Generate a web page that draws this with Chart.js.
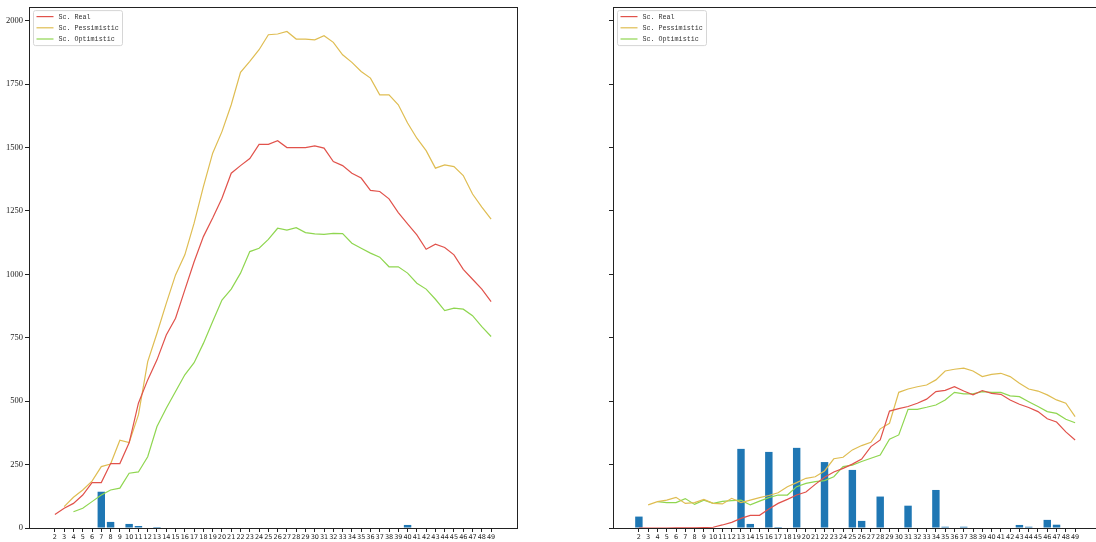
<!DOCTYPE html>
<html>
<head>
<meta charset="utf-8">
<script src="https://cdn.jsdelivr.net/npm/chart.js@4"></script>
<style>
body { margin: 0; width: 1096px; height: 542px; overflow: hidden; background: #fff; position: relative; }
.box { position: absolute; top: 0; width: 548px; height: 542px; }
#left { left: 0; }
#right { left: 584px; }
</style>
</head>
<body>
<div class="box" id="left"><canvas id="chartLeft" width="548" height="542"></canvas></div>
<div class="box" id="right"><canvas id="chartRight" width="548" height="542"></canvas></div>
<script>
// categories 2..49
const cats = [2, 3, 4, 5, 6, 7, 8, 9, 10, 11, 12, 13, 14, 15, 16, 17, 18, 19, 20, 21, 22, 23, 24, 25,
    26, 27, 28, 29, 30, 31, 32, 33, 34, 35, 36, 37, 38, 39, 40, 41, 42, 43, 44, 45, 46, 47, 48, 49];
const yTicks = [0, 250, 500, 750, 1000, 1250, 1500, 1750, 2000];
const labels = ['Sc. Real', 'Sc. Pessimistic', 'Sc. Optimistic'];

// left panel
const leftReal = [53, 78, 97, 130, 179, 179, 254, 254, 336, 492, 584, 663, 761, 827, 939, 1050, 1149, 1222, 1300, 1399,
    1429, 1457, 1513, 1513, 1527, 1500, 1500, 1500, 1507, 1498, 1445, 1429, 1399, 1380, 1331, 1327, 1298, 1244,
    1199, 1156, 1099, 1119, 1106, 1077, 1020, 981, 942, 893];
const leftPess = [null, 84, 121, 150, 185, 242, 252, 346, 337, 446, 656, 768, 886, 998, 1077, 1202, 1346, 1478, 1563, 1669,
    1797, 1840, 1886, 1945, 1948, 1958, 1928, 1928, 1925, 1941, 1915, 1866, 1836, 1800, 1774, 1708, 1708, 1669,
    1597, 1537, 1488, 1419, 1432, 1425, 1390, 1317, 1265, 1218];
const leftOpt = [null, null, 64, 78, 104, 130, 150, 157, 216, 221, 281, 400, 472, 538, 604, 652, 728, 814, 899, 942,
    1005, 1090, 1103, 1138, 1182, 1175, 1184, 1165, 1160, 1158, 1162, 1161, 1123, 1103, 1084, 1068, 1030, 1030,
    1005, 965, 942, 902, 857, 867, 863, 837, 794, 755];
const leftBars = [0, 0, 0, 0, 0, 143, 24, 0, 16, 8, 0, 4, 0, 0, 0, 0, 0, 0, 0, 0, 0, 0, 0, 0,
    0, 0, 0, 0, 0, 0, 0, 0, 0, 0, 0, 0, 0, 0, 12, 0, 0, 0, 0, 0, 0, 0, 0, 0];

// right panel
const rightReal = [0, 0, 0, 0, 1, 1, 1, 2, 3, 12, 22, 38, 50, 50, 75, 97, 113, 130, 142, 172, 200, 221, 235, 252,
    272, 321, 347, 461, 471, 479, 492, 508, 538, 543, 557, 540, 525, 542, 531, 527, 505, 488, 475, 459, 431, 418, 379, 347];
const rightPess = [null, 91, 104, 110, 121, 97, 100, 113, 97, 95, 117, 100, 110, 120, 128, 139, 163, 179, 196, 202, 225, 273, 279, 308,
    325, 338, 391, 413, 535, 548, 557, 564, 584, 619, 626, 630, 619, 597, 606, 610, 597, 571, 548, 540, 525, 505, 492, 439];
const rightOpt = [null, null, 104, 100, 100, 116, 93, 110, 97, 105, 108, 110, 91, 106, 120, 130, 130, 163, 176, 183, 187, 202, 242, 248,
    262, 275, 288, 350, 367, 468, 468, 476, 485, 505, 535, 529, 529, 538, 535, 535, 521, 518, 498, 479, 459, 452, 429, 415];
const rightBars = [45, 0, 0, 0, 0, 0, 0, 0, 0, 0, 0, 312, 16, 0, 300, 4, 0, 316, 0, 0, 260, 0, 0, 229,
    28, 0, 124, 0, 0, 88, 0, 0, 150, 5, 0, 5, 0, 0, 0, 0, 0, 12, 5, 0, 32, 13, 0, 0];

const colors = ['#e1524b', '#dfbd52', '#8fd650'];
const barColor = '#1f77b4';

const toPoints = (arr) => cats.map((c, i) => ({ x: c, y: arr[i] }));

// box around the axes
const framePlugin = {
    id: 'frame',
    afterDraw(chart) {
        const a = chart.chartArea;
        const ctx = chart.ctx;
        ctx.save();
        ctx.strokeStyle = '#222';
        ctx.lineWidth = 1;
        ctx.strokeRect(Math.round(a.left) + 0.5, Math.round(a.top) + 0.5,
            Math.round(a.right - a.left), Math.round(a.bottom - a.top));
        ctx.restore();
    }
};

// legend in the upper left corner, like matplotlib
const innerLegend = {
    id: 'innerLegend',
    afterDraw(chart) {
        const a = chart.chartArea;
        const ctx = chart.ctx;
        const x0 = a.left + 4.5, y0 = a.top + 3.5;
        ctx.save();
        ctx.fillStyle = 'rgba(255,255,255,0.8)';
        ctx.strokeStyle = '#d6d6d6';
        ctx.lineWidth = 1;
        ctx.beginPath();
        ctx.roundRect(x0, y0, 89, 35, 2);
        ctx.fill();
        ctx.stroke();
        ctx.font = '6.7px "Liberation Mono", "DejaVu Sans Mono", monospace';
        ctx.textBaseline = 'middle';
        const lines = chart.data.datasets.filter(d => d.type === 'line');
        lines.forEach((d, i) => {
            const y = y0 + 6 + i * 11.2;
            ctx.strokeStyle = d.borderColor;
            ctx.lineWidth = 1.2;
            ctx.beginPath();
            ctx.moveTo(x0 + 3, y);
            ctx.lineTo(x0 + 20, y);
            ctx.stroke();
            ctx.fillStyle = '#333';
            ctx.fillText(d.label, x0 + 25, y + 0.5);
        });
        ctx.restore();
    }
};

function makeChart(el, real, pess, opt, bars, showY) {
    return new Chart(el, {
        data: {
            datasets: [
                { type: 'line', label: labels[0], data: toPoints(real), borderColor: colors[0], borderWidth: 1.2, pointRadius: 0, order: 1 },
                { type: 'line', label: labels[1], data: toPoints(pess), borderColor: colors[1], borderWidth: 1.2, pointRadius: 0, order: 1 },
                { type: 'line', label: labels[2], data: toPoints(opt), borderColor: colors[2], borderWidth: 1.2, pointRadius: 0, order: 1 },
                { type: 'bar', label: 'bars', data: toPoints(bars), backgroundColor: barColor, barPercentage: 0.8, categoryPercentage: 1, order: 2 }
            ]
        },
        options: {
            responsive: false,
            animation: false,
            layout: { padding: { top: 7, right: 31, left: 0, bottom: 0 } },
            plugins: { legend: { display: false }, tooltip: { enabled: false } },
            scales: {
                x: {
                    type: 'linear',
                    offset: false,
                    min: -0.79,
                    max: 51.79,
                    afterBuildTicks: (s) => { s.ticks = cats.map(v => ({ value: v })); },
                    afterFit: (s) => { s.height = 14; },
                    ticks: {
                        autoSkip: false, maxRotation: 0, minRotation: 0, padding: 1,
                        color: '#222', font: { family: 'DejaVu Sans', size: 6.5 },
                        callback: (v) => String(v)
                    },
                    grid: { drawOnChartArea: false, offset: false, tickLength: 4, color: '#222' },
                    border: { color: '#222' }
                },
                y: {
                    type: 'linear',
                    min: 0,
                    max: 2054,
                    afterBuildTicks: (s) => { s.ticks = yTicks.map(v => ({ value: v })); },
                    afterFit: (s) => { s.width = 29; },
                    ticks: {
                        padding: 2, color: '#222',
                        font: { family: 'Liberation Serif', size: 8.5 },
                        callback: (v) => showY ? String(v) : ''
                    },
                    grid: { drawOnChartArea: false, tickLength: 4, color: '#222' },
                    border: { color: '#222' }
                }
            }
        },
        plugins: [framePlugin, innerLegend]
    });
}

makeChart(document.getElementById('chartLeft'), leftReal, leftPess, leftOpt, leftBars, true);
makeChart(document.getElementById('chartRight'), rightReal, rightPess, rightOpt, rightBars, false);
</script>
</body>
</html>
